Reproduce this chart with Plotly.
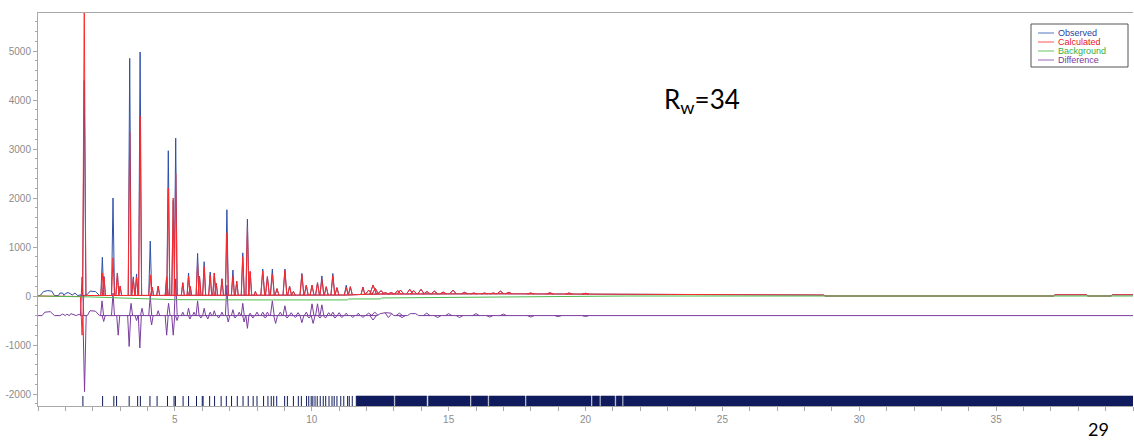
import numpy as np
import plotly.graph_objects as go

# ---------------- data ----------------
# background curve (knots)
bg_x = [0.0, 1.0, 2.0, 3.0, 4.0, 5.0, 8.0, 11.3, 11.35, 12.5, 12.55, 14.0, 17.3, 20.7, 21.5, 40.0]
bg_y = [0, -5, -20, -40, -60, -75, -80, -80, -60, -60, -40, -35, -25, -5, 0, 0]

# observed profile baseline (knots, incl. low-angle bumps)
obs_base_x = [0.0, 0.1, 0.2, 0.35, 0.5, 0.6, 0.75, 0.8, 0.9, 0.95, 1.0, 1.1, 1.2, 1.25, 1.35,
              1.45, 1.55, 1.62, 1.8, 1.9, 2.1, 2.25, 3.0, 5.0, 8.0, 11.3, 12.0, 12.5, 17.0,
              20.5, 21.5, 25.2, 28.7, 28.75, 37.1, 37.15, 38.3, 38.35, 39.2, 39.25, 40.0]
obs_base_y = [0, 20, 90, 110, 100, 10, 10, 60, 60, 10, 50, 70, 40, 20, 60,
              10, 20, 0, 30, 100, 90, 10, 10, 10, 15, 20, 35, 40, 45,
              40, 30, 30, 20, 0, 0, 25, 25, 0, 0, 25, 25]

# calculated profile baseline (knots)
calc_base_x = [0.0, 1.0, 1.55, 1.8, 3.0, 5.0, 8.0, 11.3, 12.0, 12.5, 17.0, 20.5, 21.5, 25.2,
               28.7, 28.75, 37.1, 37.15, 38.3, 38.35, 39.2, 39.25, 40.0]
calc_base_y = [0, -5, -10, 10, 10, 10, 15, 20, 35, 40, 45, 40, 30, 30,
               20, 0, 0, 25, 25, 0, 0, 25, 25]

# peaks: position, observed height, calculated height
peak_pos = [1.61, 1.69, 2.35, 2.41, 2.74, 2.90, 3.00, 3.35, 3.48, 3.60, 3.73, 4.10, 4.17, 4.39,
            4.70, 4.76, 4.94, 5.03, 5.29, 5.50, 5.56, 5.83, 5.90, 6.07, 6.29, 6.44, 6.51, 6.72,
            6.90, 7.12, 7.26, 7.48, 7.65, 7.75, 7.94, 8.21, 8.38, 8.56, 8.73, 9.02, 9.19, 9.33,
            9.64, 9.80, 10.01, 10.21, 10.37, 10.53, 10.77, 10.92, 11.26, 11.41, 11.87, 12.08,
            12.24, 12.32, 12.53, 12.69, 12.90, 13.14, 13.24, 13.58, 13.72, 13.99, 14.21, 14.48,
            14.80, 15.16, 15.58, 15.92, 16.31, 16.63, 16.89, 17.20, 18.0, 18.7, 19.4, 20.0]
peak_obs = [0, 4400, 790, 400, 2000, 470, 200, 4850, 390, 450, 4980, 1120, 180, 200,
            390, 2965, 1950, 3220, 270, 470, 200, 870, 400, 700, 490, 470, 260, 350,
            1760, 530, 300, 880, 1570, 500, 90, 550, 395, 550, 150, 550, 200, 90,
            460, 220, 220, 270, 410, 190, 460, 170, 220, 190, 180, 120,
            225, 155, 110, 70, 70, 110, 120, 135, 110, 135, 90, 100,
            80, 120, 75, 60, 60, 60, 100, 75, 60, 65, 60, 55]
peak_calc = [-800, 5950, 470, 380, 780, 470, 200, 3350, 350, 380, 3670, 430, 180, 200,
             390, 2200, 2000, 2500, 270, 400, 200, 670, 400, 600, 420, 470, 260, 350,
             1290, 400, 300, 800, 1410, 500, 90, 510, 395, 440, 150, 520, 200, 90,
             440, 220, 220, 270, 340, 190, 410, 170, 170, 190, 180, 120,
             225, 155, 110, 70, 70, 110, 120, 135, 110, 135, 90, 100,
             80, 120, 75, 60, 60, 60, 100, 75, 60, 65, 60, 55]

# difference curve: baseline knots and excursions
diff_base_x = [0.0, 0.15, 0.25, 0.45, 0.6, 0.8, 0.9, 1.0, 1.05, 1.15, 1.2, 1.3, 1.4, 1.5, 1.55,
               1.8, 1.9, 2.1, 2.25, 12.4, 12.5, 12.7, 12.9, 13.0, 13.5, 13.6, 13.8, 13.9, 40.0]
diff_base_y = [-400, -400, -330, -320, -400, -400, -370, -400, -370, -400, -360, -380, -400, -370, -400,
               -400, -300, -310, -400, -400, -360, -340, -350, -400, -400, -360, -360, -400, -400]
diff_pos = [1.61, 1.70, 2.34, 2.40, 2.74, 2.93, 3.33, 3.40, 3.60, 3.72, 3.80, 4.10, 4.15, 4.39,
            4.70, 4.77, 4.94, 5.03, 5.08, 5.29, 5.50, 5.55, 5.70, 5.83, 5.95, 6.07, 6.20, 6.29,
            6.44, 6.60, 6.72, 6.90, 6.95, 7.12, 7.20, 7.35, 7.48, 7.53, 7.65, 7.75, 7.85, 8.00,
            8.21, 8.30, 8.38, 8.56, 8.68, 8.85, 9.02, 9.10, 9.25, 9.40, 9.50, 9.64, 9.80, 9.90,
            10.01, 10.05, 10.21, 10.30, 10.37, 10.50, 10.62, 10.77, 10.85, 11.00, 11.10, 11.26,
            11.50, 11.70, 11.87, 12.08, 12.24, 12.30, 12.80, 13.2, 13.3, 14.2, 14.6, 15.0, 15.4,
            16.0, 16.5, 17.0, 18.0, 19.0, 20.0]
diff_val = [390, -1950, -100, -520, 60, -800, -1030, -150, -500, -1060, -250, 0, -590, -300,
            -800, -150, -800, 350, -500, -330, -250, -470, -330, -100, -450, -250, -470, -330,
            -300, -450, -330, 220, -530, -280, -450, -330, -150, -530, -660, -350, -450, -330,
            -330, -450, -330, -100, -560, -330, -200, -450, -340, -440, -340, -545, -330, -450,
            -160, -560, -160, -450, -180, -450, -340, -330, -450, -340, -440, -350,
            -440, -350, -440, -350, -490, -330, -440, -350, -440, -350, -440, -360, -440,
            -360, -430, -370, -430, -420, -420]

# reflection (hkl) tick positions and dense bands
refl_pos = [1.64, 2.36, 2.77, 2.87, 3.33, 3.64, 3.74, 4.09, 4.35, 4.73, 4.97, 5.02, 5.30, 5.50,
            5.79, 6.00, 6.03, 6.27, 6.45, 6.69, 6.88, 7.07, 7.28, 7.49, 7.68, 7.86, 8.00, 8.24,
            8.40, 8.52, 8.61, 8.72, 9.01, 9.11, 9.33, 9.51, 9.62, 9.81, 9.89, 9.98, 10.04,
            10.12, 10.20, 10.31, 10.42, 10.51, 10.63, 10.74, 10.82, 10.92, 11.06, 11.17, 11.31,
            11.37, 11.48]
band_start = [11.62, 13.05, 14.26, 15.83, 16.48, 17.84, 20.25, 20.56, 21.12, 21.39]
band_end = [13.00, 14.20, 15.78, 16.43, 17.79, 20.20, 20.51, 21.07, 21.34, 40.0]

y_tick_vals = [-2000, -1000, 0, 1000, 2000, 3000, 4000, 5000]
x_tick_vals = [5, 10, 15, 20, 25, 30, 35, 40]

# ---------------- styles ----------------
C_OBS = "#2f50aa"
C_CALC = "#ff2a2a"
C_BG = "#4dbb4d"
C_DIFF = "#7a3d9e"
C_REFL = "#0f1b5c"
AX = "#a8a8a8"
TICKF = dict(family="Liberation Sans, Arial, sans-serif", size=10, color="#8c8c8c")
REFL_LO, REFL_HI = -2245, -2040


def half_width(p):
    if p < 1.75:
        return 0.06
    if p < 8:
        return 0.055
    if p < 12:
        return 0.07
    return 0.12


def profile(base_x, base_y, pos, vals):
    X = list(base_x) + [None]
    Y = list(base_y) + [None]
    for p, h in zip(pos, vals):
        w = half_width(p)
        b0 = float(np.interp(p - w, base_x, base_y))
        b1 = float(np.interp(p + w, base_x, base_y))
        X += [p - w, p, p + w, None]
        Y += [b0, h, b1, None]
    return X, Y


fig = go.Figure()

# reflection ticks
rx, ry = [], []
for p in refl_pos:
    rx += [p, p, None]
    ry += [REFL_LO, REFL_HI, None]
fig.add_trace(go.Scatter(x=rx, y=ry, mode="lines", line=dict(color=C_REFL, width=1),
                         showlegend=False, hoverinfo="skip"))
bx, by = [], []
for s, e in zip(band_start, band_end):
    bx += [s, s, e, e, s, None]
    by += [REFL_LO, REFL_HI, REFL_HI, REFL_LO, REFL_LO, None]
fig.add_trace(go.Scatter(x=bx, y=by, mode="lines", fill="toself", fillcolor=C_REFL,
                         line=dict(color=C_REFL, width=0.5), showlegend=False, hoverinfo="skip"))

dx, dy = profile(diff_base_x, diff_base_y, diff_pos, diff_val)
fig.add_trace(go.Scatter(x=dx, y=dy, mode="lines", name="Difference",
                         line=dict(color=C_DIFF, width=1), showlegend=False))
ox, oy = profile(obs_base_x, obs_base_y, peak_pos, peak_obs)
fig.add_trace(go.Scatter(x=ox, y=oy, mode="lines", name="Observed",
                         line=dict(color=C_OBS, width=1), showlegend=False))
cx, cy = profile(calc_base_x, calc_base_y, peak_pos, peak_calc)
fig.add_trace(go.Scatter(x=cx, y=cy, mode="lines", name="Calculated",
                         line=dict(color=C_CALC, width=1), showlegend=False))
fig.add_trace(go.Scatter(x=bg_x, y=bg_y, mode="lines", name="Background",
                         line=dict(color=C_BG, width=1), showlegend=False))

# ---------------- manual legend ----------------
def px2x(px):
    return (px - 38) / 1095.0


def py2y(py):
    return (406 - py) / 393.0


shapes = [dict(type="rect", xref="paper", yref="paper", x0=px2x(1031), x1=px2x(1128),
               y0=py2y(67), y1=py2y(24), line=dict(color="#555555", width=1),
               fillcolor="white", layer="above")]
annots = []
legend_items = [("Observed", "#5577c4", "#1f3fa0"), ("Calculated", "#ff5555", "#e8141e"),
                ("Background", "#66c466", "#3cae3c"), ("Difference", "#9a66bb", "#7a3a9a")]
for i, (name, lc, tc) in enumerate(legend_items):
    yy = 33 + 9 * i
    shapes.append(dict(type="line", xref="paper", yref="paper", x0=px2x(1038), x1=px2x(1054),
                       y0=py2y(yy), y1=py2y(yy), line=dict(color=lc, width=1), layer="above"))
    annots.append(dict(xref="paper", yref="paper", x=px2x(1056), y=py2y(yy), text=name,
                       showarrow=False, xanchor="left", yanchor="middle",
                       font=dict(family="Liberation Sans, Arial, sans-serif", size=9, color=tc)))

annots.append(dict(xref="paper", yref="paper", x=px2x(702), y=py2y(100),
                   text="R<sub>w</sub>=34", showarrow=False, xanchor="center", yanchor="middle",
                   font=dict(family="Lato, sans-serif", size=26, color="black")))
annots.append(dict(xref="paper", yref="paper", x=px2x(1098), y=py2y(429), text="29",
                   showarrow=False, xanchor="center", yanchor="middle",
                   font=dict(family="Lato, sans-serif", size=18, color="black")))

fig.update_layout(
    width=1134, height=441,
    margin=dict(l=38, r=1, t=13, b=35),
    paper_bgcolor="white", plot_bgcolor="white",
    shapes=shapes, annotations=annots, showlegend=False,
    xaxis=dict(range=[0, 40], showgrid=False, zeroline=False, showline=True, mirror=True,
               linecolor=AX, linewidth=1, ticks="outside", ticklen=4, tickcolor=AX,
               tickmode="array", tickvals=x_tick_vals,
               ticktext=[str(v) for v in x_tick_vals],
               tickfont=TICKF, automargin=False,
               minor=dict(tickmode="linear", tick0=0, dtick=1, ticks="outside", ticklen=4,
                          tickcolor=AX)),
    yaxis=dict(range=[-2245, 5776], showgrid=False, zeroline=False, showline=True,
               linecolor=AX, linewidth=1, ticks="outside", ticklen=4, tickcolor=AX,
               tickmode="array", tickvals=y_tick_vals, ticktext=[str(v) for v in y_tick_vals],
               tickfont=TICKF, automargin=False,
               minor=dict(tickmode="linear", tick0=0, dtick=200, ticks="outside", ticklen=2,
                          tickcolor=AX)),
)

fig.write_html("out.html", config={"displayModeBar": False},
               post_script="document.body.style.margin='0';document.body.style.padding='0';")
